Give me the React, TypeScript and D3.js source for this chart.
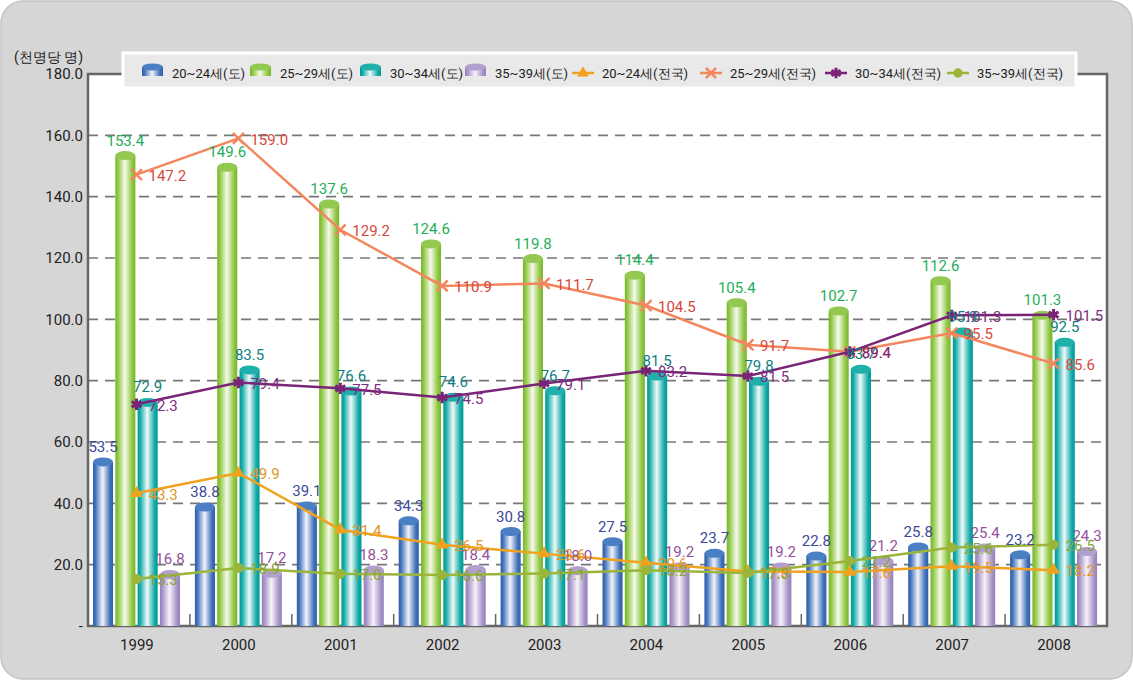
import React, { useEffect, useRef } from "react";
import * as d3 from "d3";

// chart data (values per 1,000 persons)
const years = ["1999", "2000", "2001", "2002", "2003", "2004", "2005", "2006", "2007", "2008"];
const barSeries = ["20~24세(도)", "25~29세(도)", "30~34세(도)", "35~39세(도)"];
const lineSeries = ["20~24세(전국)", "25~29세(전국)", "30~34세(전국)", "35~39세(전국)"];

const do2024 = [53.5, 38.8, 39.1, 34.3, 30.8, 27.5, 23.7, 22.8, 25.8, 23.2];
const do2529 = [153.4, 149.6, 137.6, 124.6, 119.8, 114.4, 105.4, 102.7, 112.6, 101.3];
const do3034 = [72.9, 83.5, 76.6, 74.6, 76.7, 81.5, 79.8, 83.7, 95.9, 92.5];
const do3539 = [16.8, 17.2, 18.3, 18.4, 18.0, 19.2, 19.2, 21.2, 25.4, 24.3];

const nat2024 = [43.3, 49.9, 31.4, 26.5, 23.6, 20.6, 17.8, 17.6, 19.5, 18.2];
const nat2529 = [147.2, 159.0, 129.2, 110.9, 111.7, 104.5, 91.7, 89.4, 95.5, 85.6];
const nat3034 = [72.3, 79.4, 77.5, 74.5, 79.1, 83.2, 81.5, 89.4, 101.3, 101.5];
const nat3539 = [15.3, 18.9, 17.0, 16.6, 17.1, 18.2, 17.3, 21.2, 25.6, 26.5];

const yTicks = [0, 20, 40, 60, 80, 100, 120, 140, 160, 180];

const W = 1133, H = 680;
const FONT = "Roboto, 'DejaVu Sans', sans-serif";

const barStyles = [
  { edge: "#3f72bb", dark: "#2f5ea8", light: "#f2f3fa", top: "#4a7fc4", label: "#3c4a9c" },
  { edge: "#8cc63f", dark: "#7ab52e", light: "#f6faea", top: "#93c950", label: "#1fae5a" },
  { edge: "#12aaa6", dark: "#009995", light: "#eefafa", top: "#1fb0ac", label: "#0e7f80" },
  { edge: "#a592c6", dark: "#9580bb", light: "#f7f3fa", top: "#b39fcf", label: "#93519c" },
];
const lineStyles = [
  { color: "#f0a21e", label: "#e0962a", marker: "triangle" },
  { color: "#f4865e", label: "#d5483c", marker: "cross" },
  { color: "#7a2478", label: "#7d2f80", marker: "star" },
  { color: "#9bb53a", label: "#86a437", marker: "circle" },
];

export default function App() {
  const ref = useRef<SVGSVGElement>(null);

  useEffect(() => {
    const svg = d3.select(ref.current);
    svg.selectAll("*").remove();

    const bars = [do2024, do2529, do3034, do3539];
    const lines = [nat2024, nat2529, nat3034, nat3539];

    const left = 88, right = 1107, top = 74, bottom = 626;
    const x = d3.scaleBand().domain(years).range([left, right]);
    const inner = d3.scaleBand().domain(barSeries).range([5, 92]).paddingInner(0.1);
    const y = d3.scaleLinear().domain([0, 180]).range([bottom, top]);
    const cx = (yr: string) =>
      (x(yr) as number) + ((inner(barSeries[1]) as number) + inner.bandwidth() + (inner(barSeries[2]) as number)) / 2;

    // gradients
    const defs = svg.append("defs");
    barStyles.forEach((s, i) => {
      const g = defs.append("linearGradient").attr("id", "cyl" + i).attr("x1", 0).attr("x2", 1).attr("y1", 0).attr("y2", 0);
      g.append("stop").attr("offset", "0%").attr("stop-color", s.dark);
      g.append("stop").attr("offset", "12%").attr("stop-color", s.edge);
      g.append("stop").attr("offset", "48%").attr("stop-color", s.light);
      g.append("stop").attr("offset", "85%").attr("stop-color", s.edge);
      g.append("stop").attr("offset", "100%").attr("stop-color", s.dark);
    });

    // background
    svg.append("rect").attr("width", W).attr("height", H).attr("fill", "#ffffff");
    svg.append("rect").attr("x", 1).attr("y", 1).attr("width", W - 2).attr("height", H - 2).attr("rx", 22)
      .attr("fill", "#d6d6d6").attr("stroke", "#c4c4c4").attr("stroke-width", 1.5);

    svg.append("rect").attr("x", left).attr("y", top).attr("width", right - left).attr("height", bottom - top)
      .attr("fill", "#ffffff");

    // grid
    svg.append("g").selectAll("line").data(yTicks.filter((t) => t > 0 && t < 180)).enter().append("line")
      .attr("x1", left).attr("x2", right).attr("y1", (d) => y(d)).attr("y2", (d) => y(d))
      .attr("stroke", "#777").attr("stroke-width", 1.6).attr("stroke-dasharray", "10,7");

    // frame
    svg.append("path")
      .attr("d", `M${left},${bottom}V${top}H${right}V${bottom}Z`)
      .attr("fill", "none").attr("stroke", "#666").attr("stroke-width", 2.5);

    // category ticks
    svg.append("g").selectAll("line").data(years.slice(1)).enter().append("line")
      .attr("x1", (d) => x(d) as number).attr("x2", (d) => x(d) as number)
      .attr("y1", bottom).attr("y2", bottom - 12).attr("stroke", "#666").attr("stroke-width", 1.5);

    // y labels
    svg.append("g").selectAll("text").data(yTicks).enter().append("text")
      .attr("x", left - 5).attr("y", (d) => y(d)).attr("dy", "0.36em").attr("text-anchor", "end")
      .attr("font-family", FONT).attr("font-size", 15).attr("fill", "#222")
      .text((d) => (d === 0 ? "-" : d.toFixed(1)));
    svg.append("text").attr("x", 14).attr("y", 62).attr("font-family", FONT).attr("font-size", 14)
      .attr("fill", "#222").text("(천명당 명)");

    // x labels
    svg.append("g").selectAll("text").data(years).enter().append("text")
      .attr("x", (d) => (x(d) as number) + x.bandwidth() / 2 - 2).attr("y", 650).attr("text-anchor", "middle")
      .attr("font-family", FONT).attr("font-size", 15).attr("fill", "#222").text((d) => d);

    // cylinders
    const bw = inner.bandwidth();
    bars.forEach((vals, si) => {
      const s = barStyles[si];
      const g = svg.append("g");
      const items = g.selectAll("g").data(vals).enter().append("g");
      items.append("rect")
        .attr("x", (_, i) => (x(years[i]) as number) + (inner(barSeries[si]) as number))
        .attr("y", (d) => y(d)).attr("width", bw).attr("height", (d) => bottom - y(d))
        .attr("fill", `url(#cyl${si})`);
      items.append("ellipse")
        .attr("cx", (_, i) => (x(years[i]) as number) + (inner(barSeries[si]) as number) + bw / 2)
        .attr("cy", (d) => y(d)).attr("rx", bw / 2).attr("ry", 4.5).attr("fill", s.top);
    });

    // lines
    lines.forEach((vals, li) => {
      const s = lineStyles[li];
      const line = d3.line<number>().x((_, i) => cx(years[i])).y((d) => y(d));
      svg.append("path").datum(vals).attr("d", line).attr("fill", "none")
        .attr("stroke", s.color).attr("stroke-width", 2.5);
      const m = svg.append("g").selectAll("path").data(vals).enter().append("path")
        .attr("transform", (d, i) => `translate(${cx(years[i])},${y(d)})`);
      if (s.marker === "triangle") m.attr("d", d3.symbol(d3.symbolTriangle, 70)()).attr("fill", s.color);
      if (s.marker === "circle") m.attr("d", d3.symbol(d3.symbolCircle, 80)()).attr("fill", s.color);
      if (s.marker === "cross") m.attr("d", d3.symbol(d3.symbolTimes, 80)()).attr("fill", "none").attr("stroke", s.color).attr("stroke-width", 2.5);
      if (s.marker === "star") m.attr("d", d3.symbol(d3.symbolAsterisk, 90)()).attr("fill", "none").attr("stroke", s.color).attr("stroke-width", 3);
    });

    // bar labels
    bars.forEach((vals, si) => {
      svg.append("g").selectAll("text").data(vals).enter().append("text")
        .attr("x", (_, i) => (x(years[i]) as number) + (inner(barSeries[si]) as number) + bw / 2)
        .attr("y", (d) => y(d) - 10).attr("text-anchor", "middle")
        .attr("font-family", FONT).attr("font-size", 15).attr("fill", barStyles[si].label)
        .text((d) => d.toFixed(1));
    });
    // line labels
    lines.forEach((vals, li) => {
      svg.append("g").selectAll("text").data(vals).enter().append("text")
        .attr("x", (_, i) => cx(years[i]) + 12).attr("y", (d) => y(d)).attr("dy", "0.42em")
        .attr("font-family", FONT).attr("font-size", 15).attr("fill", lineStyles[li].label)
        .text((d) => d.toFixed(1));
    });

    // legend
    svg.append("rect").attr("x", 123).attr("y", 53).attr("width", 953).attr("height", 35)
      .attr("fill", "#e9e9e9").attr("stroke", "#ffffff").attr("stroke-width", 3);
    const legX = [142, 250, 360, 465, 572, 700, 825, 947];
    const ly = 73;
    barSeries.forEach((name, i) => {
      const s = barStyles[i];
      const lx = legX[i];
      svg.append("rect").attr("x", lx).attr("y", ly - 6).attr("width", 21).attr("height", 9).attr("fill", `url(#cyl${i})`);
      svg.append("ellipse").attr("cx", lx + 10.5).attr("cy", ly - 6).attr("rx", 10.5).attr("ry", 3.5).attr("fill", s.top);
      svg.append("text").attr("x", lx + 30).attr("y", ly).attr("dy", "0.35em").attr("font-family", FONT)
        .attr("font-size", 13).attr("fill", "#222").text(name);
    });
    lineSeries.forEach((name, i) => {
      const s = lineStyles[i];
      const lx = legX[4 + i];
      svg.append("line").attr("x1", lx).attr("x2", lx + 22).attr("y1", ly).attr("y2", ly)
        .attr("stroke", s.color).attr("stroke-width", 2.5);
      const m = svg.append("path").attr("transform", `translate(${lx + 11},${ly})`);
      if (s.marker === "triangle") m.attr("d", d3.symbol(d3.symbolTriangle, 60)()).attr("fill", s.color);
      if (s.marker === "circle") m.attr("d", d3.symbol(d3.symbolCircle, 70)()).attr("fill", s.color);
      if (s.marker === "cross") m.attr("d", d3.symbol(d3.symbolTimes, 70)()).attr("fill", "none").attr("stroke", s.color).attr("stroke-width", 2.5);
      if (s.marker === "star") m.attr("d", d3.symbol(d3.symbolAsterisk, 80)()).attr("fill", "none").attr("stroke", s.color).attr("stroke-width", 3);
      svg.append("text").attr("x", lx + 30).attr("y", ly).attr("dy", "0.35em").attr("font-family", FONT)
        .attr("font-size", 13).attr("fill", "#222").text(name);
    });
  }, []);

  return (
    <svg ref={ref} width={W} height={H} style={{ position: "absolute", left: 0, top: 0, display: "block" }} />
  );
}
